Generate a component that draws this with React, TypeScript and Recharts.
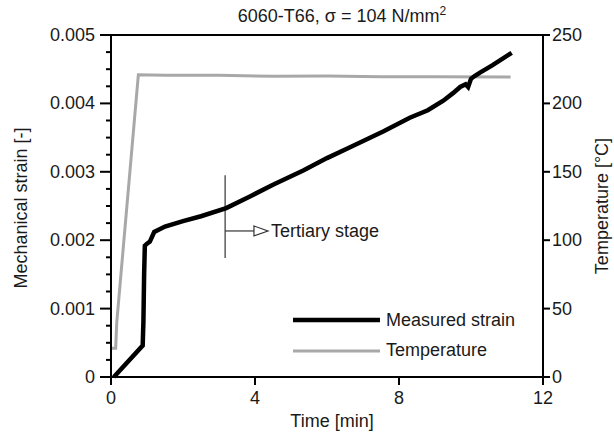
import { ComposedChart, Line, XAxis, YAxis, ReferenceLine } from "recharts";

// strain readings [time min, strain -]
const strainTime = [0.08, 0.88, 0.9, 0.92, 0.94, 1.0, 1.08, 1.2, 1.5, 2.0, 2.5, 3.2, 3.86, 4.5, 5.34, 6.0, 6.64, 7.56, 8.3, 8.8, 9.23, 9.5, 9.7, 9.85, 9.92, 10.0, 10.1, 10.25, 10.6, 11.13];
const strainValues = [0, 0.00046, 0.0008, 0.0015, 0.00192, 0.00195, 0.00198, 0.00212, 0.0022, 0.00228, 0.00235, 0.00247, 0.00264, 0.00281, 0.00302, 0.0032, 0.00336, 0.00359, 0.00379, 0.0039, 0.00404, 0.00415, 0.00424, 0.00428, 0.00424, 0.00436, 0.0044, 0.00445, 0.00456, 0.00474];

// temperature readings [time min, °C]
const tempTime = [0.02, 0.13, 0.16, 0.76, 1.5, 3, 4.5, 6, 7.5, 9, 11.1];
const tempValues = [21, 21, 40, 221, 220.5, 220.5, 219.8, 220, 219.5, 219.5, 219.3];

const timeTicks = [0, 4, 8, 12];
const strainTicks = [0, 0.001, 0.002, 0.003, 0.004, 0.005];
const tempTicks = [0, 50, 100, 150, 200, 250];

const strainData = strainTime.map((t, i) => ({ t, strain: strainValues[i] }));
const tempData = tempTime.map((t, i) => ({ t, temp: tempValues[i] }));

// minor ticks: 4 steps per major interval on the strain axis
const strainMinor: number[] = [];
strainTicks.forEach((v, i) => {
  if (i === strainTicks.length - 1) {
    strainMinor.push(v);
    return;
  }
  for (let k = 0; k < 4; k++) strainMinor.push(v + (k * (strainTicks[i + 1] - v)) / 4);
});

const FONT = "'Liberation Sans', Arial, sans-serif";
const TXT = "#1a1a1a";

function LeftTick({ x, y, payload }: any) {
  const v = payload.value;
  const major = strainTicks.some((m) => Math.abs(m - v) < 1e-9);
  return (
    <g>
      <line x1={x} x2={x - (major ? 11 : 5)} y1={y} y2={y} stroke="#000" strokeWidth={2} />
      {major && (
        <text x={x - 16} y={y} textAnchor="end" dominantBaseline="central" fontSize={18} fontFamily={FONT} fill={TXT}>
          {v === 0 ? "0" : v.toFixed(3)}
        </text>
      )}
    </g>
  );
}

function RightTick({ x, y, payload }: any) {
  return (
    <g>
      <line x1={x} x2={x + 7} y1={y} y2={y} stroke="#000" strokeWidth={2} />
      <text x={x + 9} y={y} textAnchor="start" dominantBaseline="central" fontSize={18} fontFamily={FONT} fill={TXT}>
        {payload.value}
      </text>
    </g>
  );
}

function BottomTick({ x, y, payload }: any) {
  return (
    <g>
      <line x1={x} x2={x} y1={y} y2={y + 8} stroke="#000" strokeWidth={2} />
      <text x={x} y={y + 21} textAnchor="middle" dominantBaseline="central" fontSize={18} fontFamily={FONT} fill={TXT}>
        {payload.value}
      </text>
    </g>
  );
}

function ArrowShape(props: any) {
  const { x1, y1, x2 } = props;
  return (
    <g>
      <line x1={x1} y1={y1} x2={x2 - 14} y2={y1} stroke="#333" strokeWidth={1.2} />
      <polygon points={`${x2 - 14},${y1 - 5} ${x2},${y1} ${x2 - 14},${y1 + 5}`} fill="#fff" stroke="#333" strokeWidth={1.2} />
      <text x={x2 + 3} y={y1} dominantBaseline="central" fontSize={18} fontFamily={FONT} fill={TXT}>
        Tertiary stage
      </text>
    </g>
  );
}

const abs = (style: any) => ({ position: "absolute" as const, fontFamily: FONT, fontSize: 18, color: TXT, whiteSpace: "nowrap" as const, ...style });

export default function App() {
  return (
    <div style={{ position: "absolute", left: 0, top: 0, width: 614, height: 433, background: "#fff" }}>
      <ComposedChart width={614} height={433} margin={{ top: 35, right: 21, left: 51, bottom: 16 }}>
        <XAxis
          dataKey="t"
          type="number"
          domain={[0, 12]}
          ticks={timeTicks}
          allowDataOverflow
          axisLine={{ stroke: "#000", strokeWidth: 2 }}
          tickLine={false}
          tickSize={0}
          tickMargin={0}
          tick={<BottomTick />}
          height={40}
        />
        <YAxis
          yAxisId="left"
          domain={[0, 0.005]}
          ticks={strainMinor}
          interval={0}
          axisLine={{ stroke: "#000", strokeWidth: 2 }}
          tickLine={false}
          tickSize={0}
          tickMargin={0}
          tick={<LeftTick />}
          width={60}
        />
        <YAxis
          yAxisId="right"
          orientation="right"
          domain={[0, 250]}
          ticks={tempTicks}
          interval={0}
          axisLine={{ stroke: "#000", strokeWidth: 2 }}
          tickLine={false}
          tickSize={0}
          tickMargin={0}
          tick={<RightTick />}
          width={50}
        />
        <ReferenceLine yAxisId="left" y={0.005} stroke="#000" strokeWidth={2} />
        <ReferenceLine
          yAxisId="left"
          segment={[{ x: 3.17, y: 0.00174 }, { x: 3.17, y: 0.00295 }]}
          stroke="#333"
          strokeWidth={1.2}
        />
        <ReferenceLine
          yAxisId="left"
          segment={[{ x: 3.17, y: 0.002135 }, { x: 4.36, y: 0.002135 }]}
          shape={<ArrowShape />}
        />
        <Line
          yAxisId="right"
          data={tempData}
          dataKey="temp"
          stroke="#a8a8a8"
          strokeWidth={3}
          dot={false}
          isAnimationActive={false}
        />
        <Line
          yAxisId="left"
          data={strainData}
          dataKey="strain"
          stroke="#000"
          strokeWidth={4.5}
          dot={false}
          isAnimationActive={false}
        />
      </ComposedChart>

      {/* legend */}
      <svg style={{ position: "absolute", left: 0, top: 0 }} width={614} height={433} pointerEvents="none">
        <line x1={293} x2={380} y1={320} y2={320} stroke="#000" strokeWidth={4.5} />
        <line x1={293} x2={380} y1={351} y2={351} stroke="#a8a8a8" strokeWidth={3} />
        <text x={386} y={320} dominantBaseline="central" fontSize={18} fontFamily={FONT} fill={TXT}>Measured strain</text>
        <text x={386} y={350} dominantBaseline="central" fontSize={18} fontFamily={FONT} fill={TXT}>Temperature</text>
      </svg>

      <div style={abs({ left: 342, top: 15, transform: "translate(-50%, -50%)" })}>
        6060-T66, σ = 104 N/mm<sup style={{ fontSize: 12 }}>2</sup>
      </div>
      <div style={abs({ left: 332, top: 421, transform: "translate(-50%, -50%)" })}>Time [min]</div>
      <div style={abs({ left: 21, top: 208, transform: "translate(-50%, -50%) rotate(-90deg)" })}>Mechanical strain [-]</div>
      <div style={abs({ left: 602, top: 206, transform: "translate(-50%, -50%) rotate(-90deg)" })}>Temperature [°C]</div>
    </div>
  );
}
